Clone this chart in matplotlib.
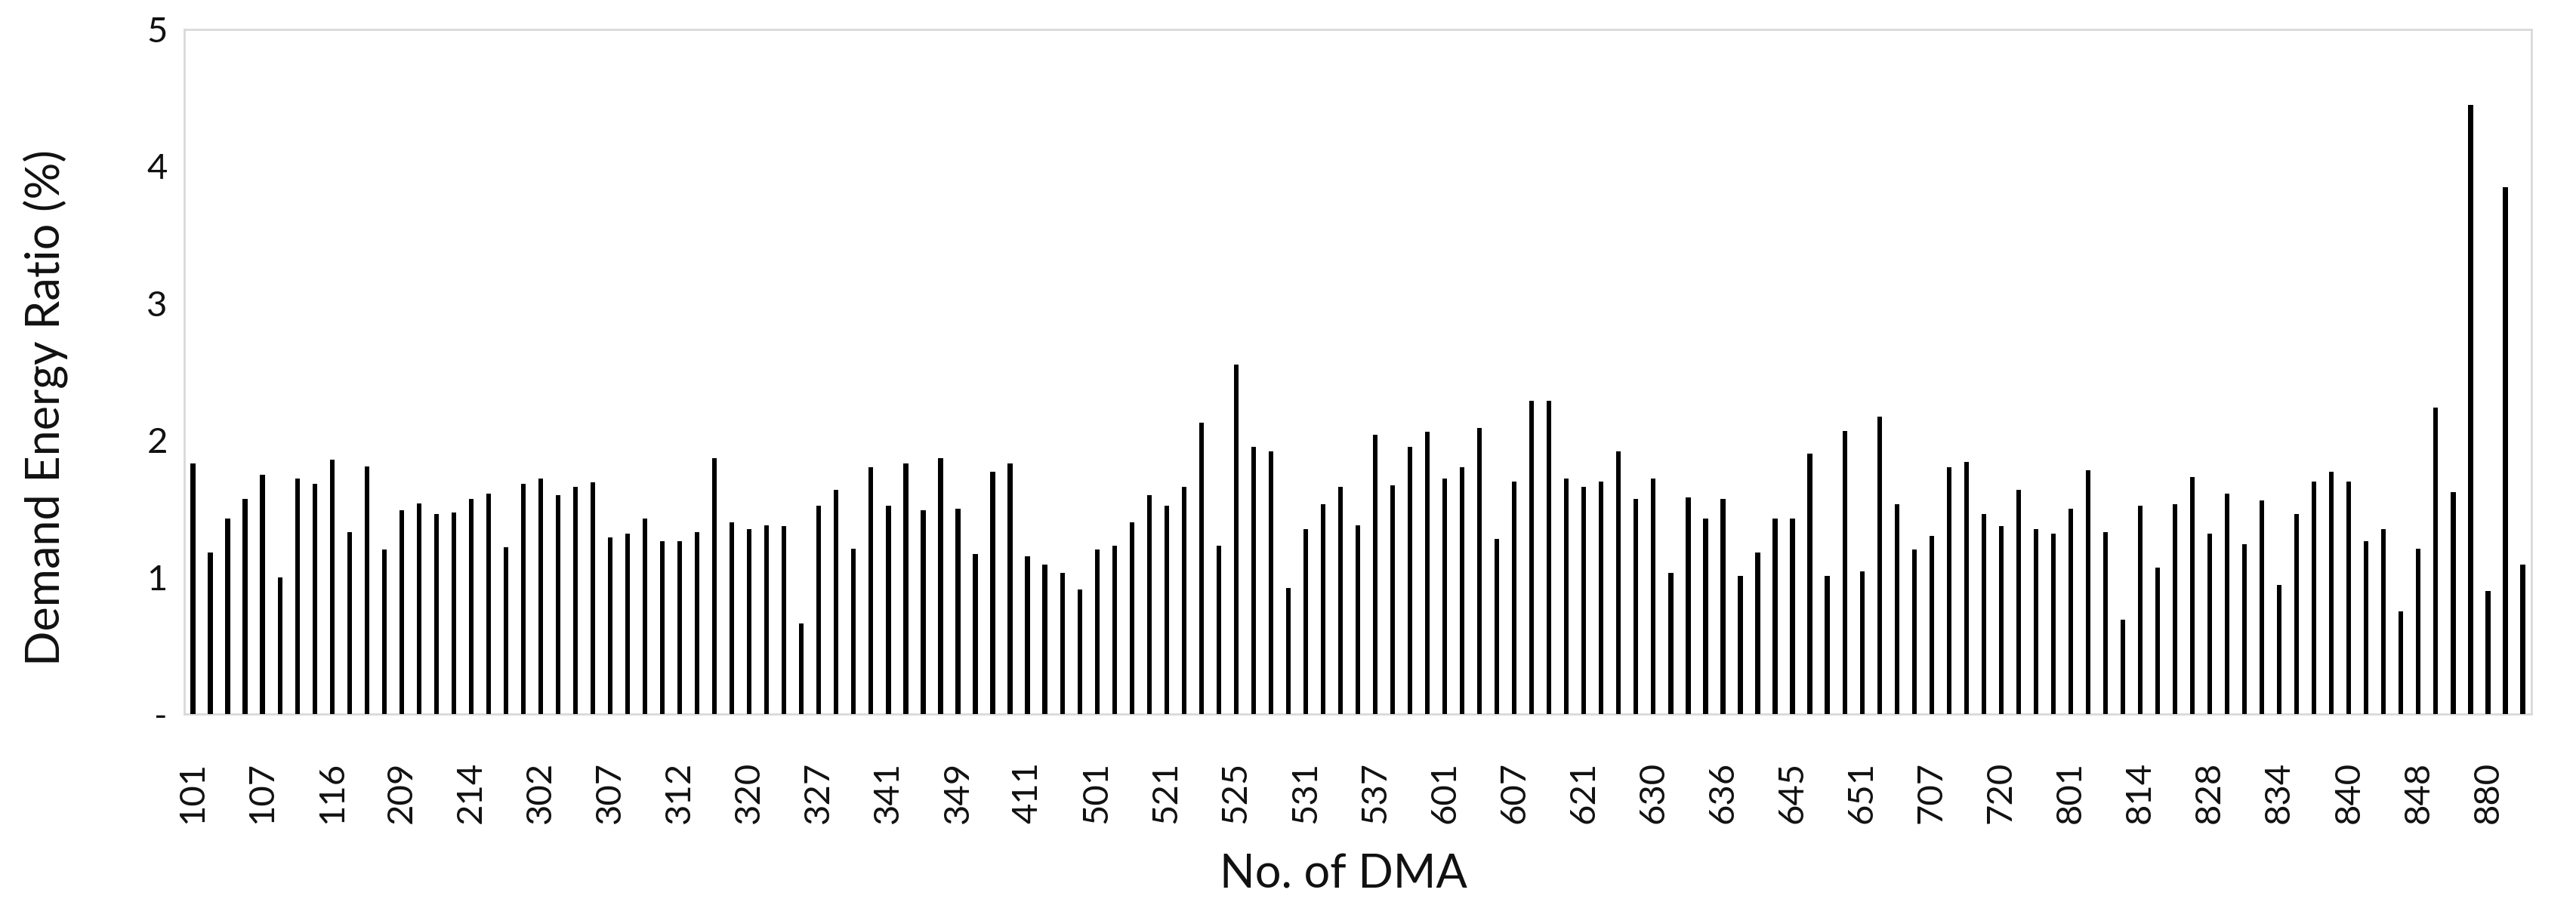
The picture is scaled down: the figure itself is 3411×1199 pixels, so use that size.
import matplotlib
matplotlib.use("Agg")
import matplotlib.pyplot as plt
import numpy as np

# DMA labels visible on the x axis (every 4th bar is labelled)
dma_labels = ["101", "107", "116", "209", "214", "302", "307", "312", "320", "327",
              "341", "349", "411", "501", "521", "525", "531", "537", "601", "607",
              "621", "630", "636", "645", "651", "707", "720", "801", "814", "828",
              "834", "840", "848", "880"]
label_step = 4

# Demand energy ratio (%) for each DMA bar
ratio_values = [
    1.83, 1.18, 1.43, 1.57, 1.75, 1.00, 1.72, 1.68, 1.86, 1.33, 1.81, 1.20,
    1.49, 1.54, 1.46, 1.47, 1.57, 1.61, 1.22, 1.68, 1.72, 1.60, 1.66, 1.69,
    1.29, 1.32, 1.43, 1.26, 1.26, 1.33, 1.87, 1.40, 1.35, 1.38, 1.37, 0.66,
    1.52, 1.64, 1.21, 1.80, 1.52, 1.83, 1.49, 1.87, 1.50, 1.17, 1.77,
    1.83, 1.15, 1.09, 1.03, 0.91, 1.20, 1.23, 1.40, 1.60, 1.52, 1.66, 2.13,
    1.23, 2.55, 1.95, 1.92, 0.92, 1.35, 1.53, 1.66, 1.38, 2.04, 1.67,
    1.95, 2.06, 1.72, 1.80, 2.09, 1.28, 1.70, 2.29, 2.29, 1.72, 1.66, 1.70,
    1.92, 1.57, 1.72, 1.03, 1.58, 1.43, 1.57, 1.01, 1.18, 1.43, 1.43,
    1.90, 1.01, 2.07, 1.04, 2.17, 1.53, 1.20, 1.30, 1.80, 1.84, 1.46, 1.37,
    1.64, 1.35, 1.32, 1.50, 1.78, 1.33, 0.69, 1.52, 1.07, 1.53, 1.73,
    1.32, 1.61, 1.24, 1.56, 0.94, 1.46, 1.70, 1.77, 1.70, 1.26, 1.35, 0.75,
    1.21, 2.24, 1.62, 4.45, 0.90, 3.85, 1.09,
]

y_ticks = [0, 1, 2, 3, 4, 5]
y_tick_labels = ["-", "1", "2", "3", "4", "5"]

W, H, DPI = 3411, 1199, 100
fig = plt.figure(figsize=(W / DPI, H / DPI), dpi=DPI)
plt.rcParams["font.family"] = ["Lato", "DejaVu Sans"]

ax = fig.add_axes([244 / W, 1 - 946 / H, (3352 - 244) / W, (946 - 39) / H])
x = np.arange(len(ratio_values))
ax.bar(x, ratio_values, width=0.27, color="black", zorder=3)

ax.set_xlim(-0.5, len(ratio_values) - 0.5)
ax.set_ylim(0, 5)

txt = "#111111"
ax.set_xticks(x[::label_step])
ax.set_xticklabels(dma_labels, rotation=90, fontsize=34, color=txt)
ax.set_yticks(y_ticks)
ax.set_yticklabels(y_tick_labels, fontsize=34, color=txt)
ax.tick_params(axis="x", length=0, pad=45)
ax.tick_params(axis="y", length=0, pad=16)

for s in ax.spines.values():
    s.set_color("#d9d9d9")
    s.set_linewidth(2)

ax.set_xlabel("No. of DMA", fontsize=44, color=txt)
ax.set_ylabel("Demand Energy Ratio (%)", fontsize=44, color=txt)
ax.xaxis.set_label_coords(0.494, -0.203)
ax.yaxis.set_label_coords(-0.0495, 0.448)

fig.savefig("out.png", dpi=DPI, facecolor="white")
